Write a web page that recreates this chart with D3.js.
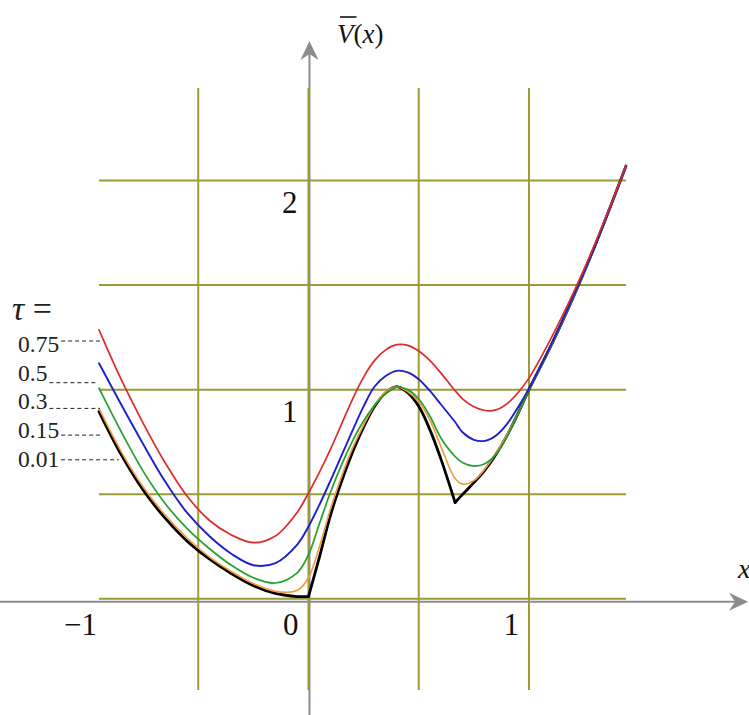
<!DOCTYPE html>
<html>
<head>
<meta charset="utf-8">
<script src="https://cdn.jsdelivr.net/npm/d3@7"></script>
<style>
  body { margin: 0; background: #fff; }
  svg { display: block; }
  text { font-family: 'Liberation Serif', 'Times New Roman', serif; }
</style>
</head>
<body>
<svg id="chart" width="749" height="715"></svg>
<script>
// Sample points along x shared by all curves
const xs = [-0.95, -0.85, -0.75, -0.65, -0.55, -0.45, -0.35, -0.25, -0.15, -0.05,
            0, 0.05, 0.1, 0.15, 0.2, 0.25, 0.3, 0.35, 0.4, 0.45, 0.5, 0.55, 0.6,
            0.665, 0.7, 0.75, 0.8, 0.85, 0.9, 0.95, 1.0, 1.1, 1.2, 1.3, 1.44];

// V̄(x) for each tau
const vTau075 = [1.286, 1.05, 0.84, 0.65, 0.49, 0.375, 0.305, 0.268, 0.30, 0.415,
                 0.505, 0.605, 0.715, 0.835, 0.955, 1.06, 1.14, 1.19, 1.215, 1.212, 1.185, 1.14, 1.08,
                 0.995, 0.955, 0.918, 0.90, 0.903, 0.932, 0.985, 1.055, 1.245, 1.46, 1.70, 2.07];
const vTau05  = [1.126, 0.93, 0.74, 0.56, 0.41, 0.30, 0.215, 0.16, 0.17, 0.26,
                 0.345, 0.45, 0.565, 0.685, 0.805, 0.92, 1.015, 1.065, 1.09, 1.083, 1.05, 0.995, 0.93,
                 0.845, 0.795, 0.76, 0.755, 0.78, 0.835, 0.915, 1.005, 1.215, 1.445, 1.69, 2.07];
const vTau03  = [1.007, 0.80, 0.61, 0.455, 0.335, 0.24, 0.16, 0.10, 0.075, 0.125,
                 0.21, 0.36, 0.51, 0.64, 0.755, 0.85, 0.925, 0.98, 1.012, 1.0, 0.955, 0.875, 0.77,
                 0.68, 0.65, 0.634, 0.645, 0.69, 0.775, 0.885, 1.0, 1.21, 1.44, 1.69, 2.07];
const vTau015 = [0.91, 0.705, 0.535, 0.40, 0.29, 0.20, 0.13, 0.072, 0.035, 0.04,
                 0.10, 0.25, 0.43, 0.585, 0.72, 0.83, 0.925, 0.99, 1.014, 0.99, 0.943, 0.855, 0.73,
                 0.575, 0.548, 0.565, 0.62, 0.695, 0.785, 0.885, 1.0, 1.21, 1.44, 1.69, 2.07];
const vTau001 = [0.895, 0.69, 0.52, 0.385, 0.275, 0.19, 0.12, 0.062, 0.025, 0.01,
                 0.01, 0.20, 0.40, 0.56, 0.70, 0.82, 0.92, 0.985, 1.014, 0.985, 0.92, 0.81, 0.67,
                 0.46, 0.50, 0.555, 0.615, 0.69, 0.78, 0.885, 1.0, 1.21, 1.44, 1.69, 2.07];

// Corner points of the nearly unsmoothed curve
const kinksTau001 = [0, 0.665];

// Legend labels (top to bottom) and axis labels
const tauLabels = ["0.75", "0.5", "0.3", "0.15", "0.01"];
const xTickValues = [-1, 0, 1];
const yTickValues = [1, 2];
const xGridValues = [-0.5, 0, 0.5, 1];
const yGridValues = [0, 0.5, 1, 1.5, 2];

// Drawing order: bottom to top
const seriesData = [
  { tau: "0.01", values: vTau001, kinks: kinksTau001 },
  { tau: "0.15", values: vTau015, kinks: [] },
  { tau: "0.3",  values: vTau03,  kinks: [] },
  { tau: "0.5",  values: vTau05,  kinks: [] },
  { tau: "0.75", values: vTau075, kinks: [] }
];

const styleByTau = {
  "0.75": { color: "#e02a2a", width: 1.7 },
  "0.5":  { color: "#1f1fcf", width: 1.9 },
  "0.3":  { color: "#23a02e", width: 1.7 },
  "0.15": { color: "#f29a3e", width: 1.6 },
  "0.01": { color: "#000000", width: 2.8 }
};

const svg = d3.select("#chart");
const gridColor = "#9b9b38";
const axisColor = "#8c8c8c";

const x = d3.scaleLinear().domain([-0.95, 1.44]).range([99, 626]);
const y = d3.scaleLinear().domain([-0.437, 2.443]).range([690, 88]);

// Horizontal grid
const gridH = svg.append("g").attr("stroke", gridColor).attr("stroke-width", 2);
gridH.selectAll("line").data(yGridValues).join("line")
  .attr("x1", x.range()[0]).attr("x2", x.range()[1])
  .attr("y1", d => y(d)).attr("y2", d => y(d));

// Axes (gray, with arrowheads)
const axes = svg.append("g");
const x0 = x(0) + 1, yAxis0 = y(0) + 3;
axes.append("line").attr("x1", 0).attr("x2", 736)
  .attr("y1", yAxis0).attr("y2", yAxis0)
  .attr("stroke", axisColor).attr("stroke-width", 2);
axes.append("path")
  .attr("d", `M748,${yAxis0} L729,${yAxis0 - 9} L735,${yAxis0} L729,${yAxis0 + 9} Z`)
  .attr("fill", axisColor);
axes.append("line").attr("x1", x0).attr("x2", x0)
  .attr("y1", 52).attr("y2", 715)
  .attr("stroke", axisColor).attr("stroke-width", 2);
axes.append("path")
  .attr("d", `M${x0},41 L${x0 - 9},60 L${x0},54 L${x0 + 9},60 Z`)
  .attr("fill", axisColor);

// Vertical grid
const gridV = svg.append("g").attr("stroke", gridColor).attr("stroke-width", 2);
gridV.selectAll("line").data(xGridValues).join("line")
  .attr("x1", d => x(d)).attr("x2", d => x(d))
  .attr("y1", y.range()[1]).attr("y2", y.range()[0]);

// Curves
const line = d3.line()
  .x(d => x(d[0]))
  .y(d => y(d[1]))
  .curve(d3.curveCatmullRom.alpha(0.5));

function pieces(values, kinks) {
  const pts = xs.map((xv, i) => [xv, values[i]]);
  const out = [];
  let cur = [];
  pts.forEach(p => {
    cur.push(p);
    if (kinks.includes(p[0])) { out.push(cur); cur = [p]; }
  });
  if (cur.length > 1) out.push(cur);
  return out;
}

const curves = svg.append("g").attr("fill", "none")
  .attr("stroke-linecap", "round");
seriesData.forEach(s => {
  const st = styleByTau[s.tau];
  pieces(s.values, s.kinks).forEach(seg => {
    curves.append("path")
      .attr("d", line(seg))
      .attr("stroke", st.color)
      .attr("stroke-width", st.width)
      .attr("stroke-linejoin", "miter");
  });
});

// Tick labels
const labels = svg.append("g").attr("font-size", 31).attr("fill", "#111");
labels.selectAll("text.xt").data(xTickValues).join("text")
  .attr("text-anchor", "end")
  .attr("x", d => Math.max(x(d) - 10, x.range()[0] - 2))
  .attr("y", y(0) + 36)
  .text(d => d < 0 ? "\u2212" + Math.abs(d) : String(d));
labels.selectAll("text.yt").data(yTickValues).join("text")
  .attr("text-anchor", "end")
  .attr("x", x(0) - 11)
  .attr("y", d => y(d) + 32)
  .text(d => String(d));

// Axis titles
const vTitle = svg.append("text")
  .attr("x", 337).attr("y", 43)
  .attr("font-size", 27).attr("fill", "#111");
const vSpan = vTitle.append("tspan").attr("font-style", "italic").text("V");
vTitle.append("tspan").text("(");
vTitle.append("tspan").attr("font-style", "italic").text("x");
vTitle.append("tspan").text(")");
const vw = vSpan.node().getComputedTextLength();
svg.append("line")
  .attr("x1", 340).attr("x2", 337 + vw + 3)
  .attr("y1", 17).attr("y2", 17)
  .attr("stroke", "#111").attr("stroke-width", 1.6);

svg.append("text")
  .attr("x", 738).attr("y", 578)
  .attr("font-size", 28).attr("font-style", "italic")
  .attr("fill", "#111").text("x");

// Legend: tau values with dashed leaders
const legend = svg.append("g").attr("fill", "#222");
const tauHead = legend.append("text").attr("x", 12).attr("y", 320).attr("font-size", 34);
tauHead.append("tspan").attr("font-style", "italic").text("\u03C4");
tauHead.append("tspan").text(" =");

const leaderDy = [-11, 2, -1, -3, -7];
const leaderEnd = [x(-0.95) + 1, x(-0.95) - 2, x(-0.95) + 1, x(-0.95) + 1, x(-0.86)];
tauLabels.forEach((lab, i) => {
  const base = 352 + i * 28.7;
  const t = legend.append("text").attr("x", 18).attr("y", base)
    .attr("font-size", 23.5).text(lab);
  const w = t.node().getComputedTextLength();
  legend.append("line")
    .attr("x1", 18 + w + 2).attr("x2", leaderEnd[i])
    .attr("y1", base + leaderDy[i]).attr("y2", base + leaderDy[i])
    .attr("stroke", "#222").attr("stroke-width", 1)
    .attr("stroke-dasharray", "4,3");
});
</script>
</body>
</html>
